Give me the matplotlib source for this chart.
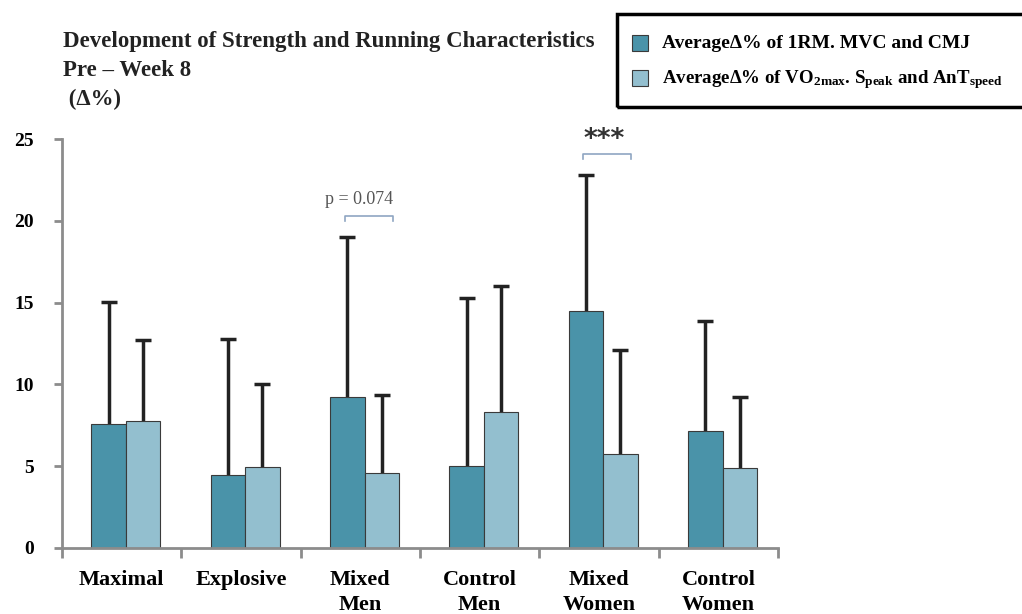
import numpy as np
import matplotlib.pyplot as plt
from matplotlib.patches import Rectangle

plt.rcParams['font.family'] = ['Liberation Serif', 'DejaVu Serif']
plt.rcParams['mathtext.fontset'] = 'custom'
plt.rcParams['mathtext.rm'] = 'Liberation Serif:bold'
plt.rcParams['mathtext.it'] = 'Liberation Serif:bold'
plt.rcParams['mathtext.bf'] = 'Liberation Serif:bold'

# data
groups = ['Maximal', 'Explosive', 'Mixed\nMen', 'Control\nMen', 'Mixed\nWomen', 'Control\nWomen']
strength = [7.55, 4.45, 9.2, 5.0, 14.5, 7.15]
strength_sd = [7.5, 8.35, 9.8, 10.3, 8.3, 6.7]
running = [7.75, 4.95, 4.6, 8.3, 5.75, 4.9]
running_sd = [4.95, 5.05, 4.75, 7.7, 6.35, 4.3]
yticks = [0, 5, 10, 15, 20, 25]

dark = '#4a93a9'
light = '#93bfcf'
axis_grey = '#8c8c8c'

fig = plt.figure(figsize=(10.22, 6.14), dpi=100)
W, H = 1022, 614
ax = fig.add_axes([62 / W, 1 - 548 / H, (778 - 62) / W, (548 - 139) / H])

x = np.arange(len(groups))
w = 0.29
off = 0.035
ax.bar(x + off - w / 2, strength, w, color=dark, edgecolor='#3a3a3a', linewidth=0.8, zorder=2)
ax.bar(x + off + w / 2, running, w, color=light, edgecolor='#3a3a3a', linewidth=0.8, zorder=2)
for xs, vals, sd in [(x + off - w / 2, strength, strength_sd), (x + off + w / 2, running, running_sd)]:
    eb = ax.errorbar(xs, vals, yerr=[np.zeros(len(x)), sd], fmt='none',
                     ecolor='#222222', elinewidth=2.5, capsize=6, capthick=2.5, zorder=1)
    eb[1][0].set_visible(False)  # no cap at the bar top

ax.set_xlim(-0.5, 5.5)
ax.set_ylim(0, 25)
ax.spines['top'].set_visible(False)
ax.spines['right'].set_visible(False)
for s in ['left', 'bottom']:
    ax.spines[s].set_color(axis_grey)
    ax.spines[s].set_linewidth(2)

ax.set_yticks(yticks)
ax.set_yticklabels([str(v) for v in yticks], fontsize=14, fontweight='bold')
ax.tick_params(axis='y', length=6, width=2, color=axis_grey, pad=14)

ax.set_xticks(x)
ax.set_xticklabels(groups, fontsize=16, fontweight='bold', linespacing=1.3)
ax.tick_params(axis='x', length=0, pad=16)
ax.set_xticks(np.arange(-0.5, 6, 1), minor=True)
ax.tick_params(axis='x', which='minor', length=7, width=2, color=axis_grey)

# significance brackets
def bracket(i, y, label, dx, dy, size, color, **kw):
    x0, x1 = i - 0.13, i + 0.27
    ax.plot([x0, x0, x1, x1], [y - 0.3, y, y, y - 0.3], color='#8fa6c2', lw=1.2, clip_on=False)
    ax.text(i + dx, y + dy, label, ha='center', va='bottom', fontsize=size, color=color,
            clip_on=False, **kw)

bracket(2, 20.3, 'p = 0.074', -0.01, 0.5, 13, '#555555')
bracket(4, 24.1, '***', 0.04, 0.05, 19, '#333333', family='DejaVu Sans', fontweight='bold')

# title
fig.text(63 / W, 1 - 31 / H, 'Development of Strength and Running Characteristics\nPre \u2013 Week 8\n (\u0394%)',
         fontsize=16.5, fontweight='bold', color='#222222', va='top', linespacing=1.5, ha='left')

# legend box
fig.patches.append(Rectangle((617 / W, 1 - 107 / H), 420 / W, 93 / H, transform=fig.transFigure,
                             fill=False, edgecolor='black', linewidth=2.5))
fig.patches.append(Rectangle((632 / W, 1 - 51 / H), 16 / W, 16 / H, transform=fig.transFigure,
                             facecolor=dark, edgecolor='#3a3a3a', linewidth=0.8))
fig.patches.append(Rectangle((632 / W, 1 - 86 / H), 16 / W, 16 / H, transform=fig.transFigure,
                             facecolor=light, edgecolor='#3a3a3a', linewidth=0.8))
fig.text(662 / W, 1 - 43 / H, 'Average\u0394% of 1RM. MVC and CMJ', fontsize=14, fontweight='bold',
         va='center', ha='left')
fig.text(662 / W, 1 - 80 / H,
         'Average\u0394% of VO$_{2max}$. S$_{peak}$ and AnT$_{speed}$', fontsize=13.6, fontweight='bold',
         va='center', ha='left')

fig.savefig('out.png', dpi=100)
